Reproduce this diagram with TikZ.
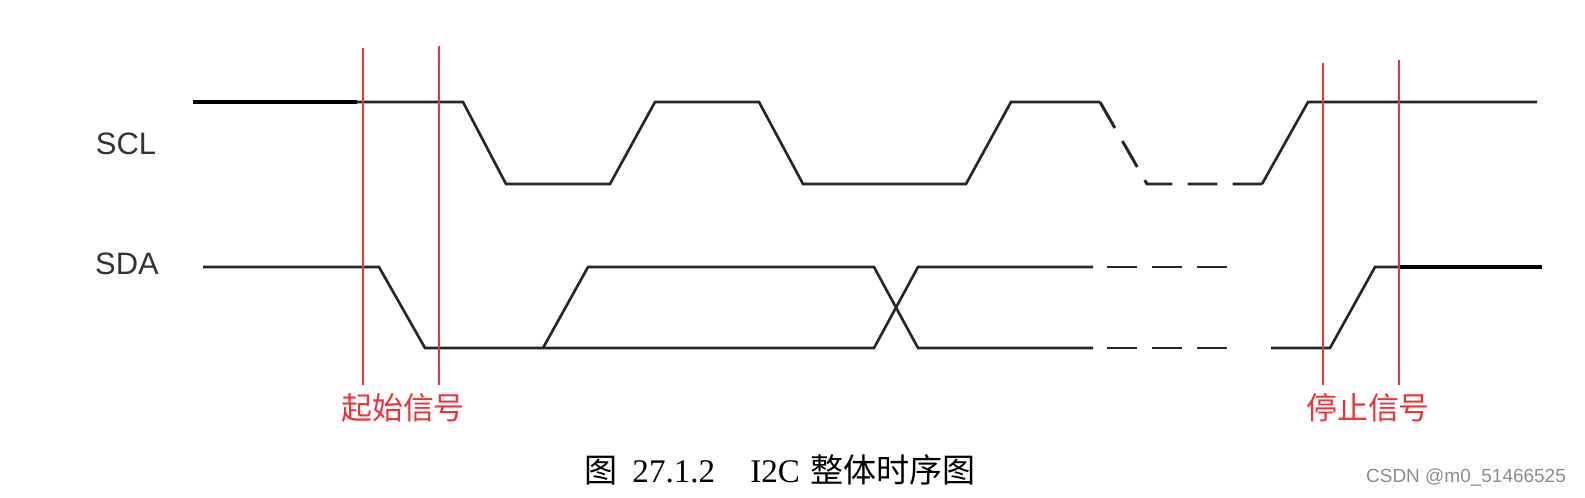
\documentclass[tikz,border=0pt]{standalone}
\usepackage{fontspec}
\setmainfont{Liberation Serif}
\setsansfont{Liberation Sans}
\newfontfamily\cjk{Noto Sans CJK SC}
\definecolor{markred}{RGB}{238,50,58}
\begin{document}
\begin{tikzpicture}[x=0.01cm, y=-0.01cm,
	wave/.style={line width=0.75pt, black!85},
	boldwave/.style={line width=1pt, black},
	dashwave/.style={line width=0.85pt, black!85, dash pattern=on 8.5pt off 4.3pt},
	marker/.style={line width=0.6pt, markred},
	signame/.style={inner sep=0pt, font=\sffamily\fontsize{8.8}{10}\selectfont, text=black!80},
	redname/.style={inner sep=0pt, font=\cjk\fontsize{8.8}{10}\selectfont, text=markred}]
		
		\useasboundingbox (0,0) rectangle (1585,497);
		
		%Signal names
		\node (sclLabel) at (126,144) [signame]{SCL};
		\node (sdaLabel) at (127,264) [signame]{SDA};
		
		%SCL line
		\draw[boldwave] (193,102) -- (357,102);
		\draw[wave] (357,102) -- (463,102) -- (506,184) -- (610,184) -- (655,102) -- (759,102) 
		-- (803,184) -- (966,184) -- (1011,102) -- (1100,102);
		\draw[dashwave] (1100,102) -- (1147,184) -- (1262,184);
		\draw[wave] (1262,184) -- (1308,102) -- (1537,102);
		
		%SDA line
		\draw[wave] (203,267) -- (379,267) -- (425,348) -- (543,348) -- (874,348) -- (918,267) 
		-- (1093,267);
		\draw[wave] (543,348) -- (588,267) -- (874,267) -- (918,348) -- (1093,348);
		\draw[dashwave] (1107,267) -- (1228,267);
		\draw[dashwave] (1107,348) -- (1228,348);
		\draw[wave] (1271,348) -- (1330,348) -- (1375,267) -- (1400,267);
		\draw[boldwave] (1400,267) -- (1542,267);
		
		%Start and stop markers
		\draw[marker] (363,48) -- (363,385);
		\draw[marker] (439,46) -- (439,385);
		\draw[marker] (1323,63) -- (1323,385);
		\draw[marker] (1399,60) -- (1399,385);
		
		\node (startLabel) at (403,408) [redname]{起始信号};
		\node (stopLabel) at (1368,408) [redname]{停止信号};
		
		%Caption
		\node (caption) at (780,470) [inner sep=0pt, font=\fontsize{9.4}{11}\selectfont]
		{{\cjk 图}\hspace{4.3pt}27.1.2\hspace{10pt}I2C\hspace{3pt}{\cjk 整体时序图}};
		\node (watermark) at (1466,477) [inner sep=0pt, font=\sffamily\fontsize{5.4}{6}\selectfont, 
		text=black!45]{CSDN @m0\_51466525};
		
		\end{tikzpicture}
\end{document}
